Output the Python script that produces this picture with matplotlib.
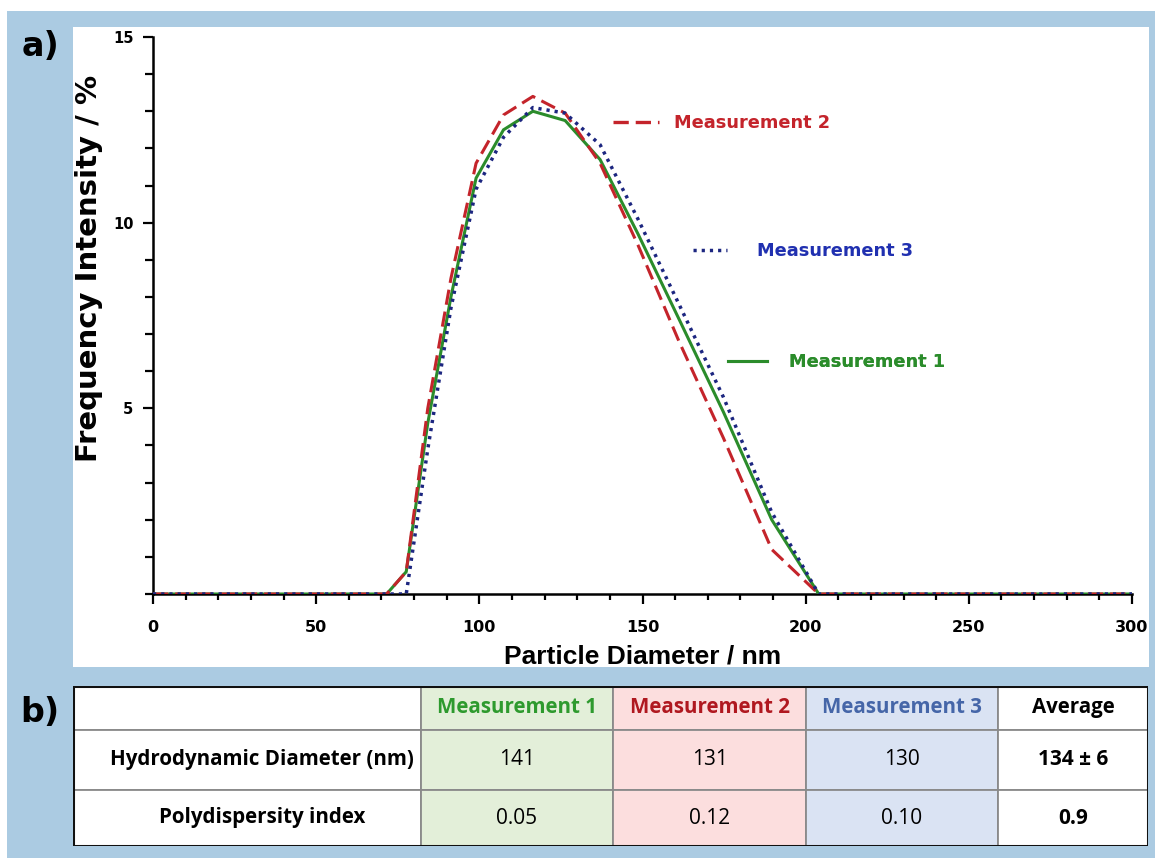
import matplotlib
matplotlib.use('Agg')
import matplotlib.pyplot as plt
from matplotlib.ticker import MultipleLocator
from matplotlib.lines import Line2D
from matplotlib.patches import Rectangle

# size distribution (DLS) - diameter bins in nm, intensity in %
diameter = [0, 71.6, 77.6, 84.2, 91.3, 99.0, 107.4, 116.4, 126.3, 137.0, 148.6, 161.2, 174.8, 189.6, 204.0, 300]
meas1 = [0, 0, 0.6, 4.6, 8.0, 11.2, 12.5, 13.0, 12.75, 11.7, 9.7, 7.4, 4.9, 2.0, 0, 0]
meas2 = [0, 0, 0.6, 5.0, 8.5, 11.6, 12.9, 13.4, 12.95, 11.6, 9.4, 6.8, 4.2, 1.2, 0, 0]
meas3 = [0, 0, 0, 3.9, 7.7, 10.9, 12.3, 13.1, 12.95, 12.1, 10.1, 7.8, 5.3, 2.2, 0, 0]

# table b)
col_headers = ['Measurement 1', 'Measurement 2', 'Measurement 3', 'Average']
row_labels = ['Hydrodynamic Diameter (nm)', 'Polydispersity index']
hd_values = ['141', '131', '130', '134 ± 6']
pdi_values = ['0.05', '0.12', '0.10', '0.9']

RED = '#c4242b'
GREEN = '#2b8c2b'
NAVY = '#1c2680'
BLUE_TXT = '#2030b0'
BG = '#abcbe2'
BOLD = 'DejaVu Sans'

plt.rcParams['lines.scale_dashes'] = False

W, H = 1155, 858
fig = plt.figure(figsize=(W / 100, H / 100), dpi=100)
fig.patch.set_facecolor('white')

# blue frame and white panel behind the plot
fig.add_artist(Rectangle((7 / W, 0), 1 - 7 / W, 1 - 11 / H, transform=fig.transFigure,
                         facecolor=BG, edgecolor='none', zorder=-10))
fig.add_artist(Rectangle((73 / W, 1 - 667 / H), (1149 - 73) / W, (667 - 27) / H, transform=fig.transFigure,
                         facecolor='white', edgecolor='none', zorder=-9))

ax = fig.add_axes([153 / W, 1 - 594 / H, (1132 - 153) / W, (594 - 37) / H])
ax.set_facecolor('none')

ax.plot(diameter, meas1, color=GREEN, lw=2.2, solid_joinstyle='miter', zorder=3)
ax.plot(diameter, meas2, color=RED, lw=2.2, dashes=(11, 5), zorder=4)
ax.plot(diameter, meas3, color=NAVY, lw=2.5, dashes=(2.3, 3.6), zorder=5)

ax.set_xlim(0, 300)
ax.set_ylim(0, 15)
for s in ['top', 'right']:
    ax.spines[s].set_visible(False)
for s in ['left', 'bottom']:
    ax.spines[s].set_linewidth(1.8)
    ax.spines[s].set_zorder(2)

ax.xaxis.set_major_locator(MultipleLocator(50))
ax.xaxis.set_minor_locator(MultipleLocator(10))
ax.yaxis.set_major_locator(MultipleLocator(5))
ax.yaxis.set_minor_locator(MultipleLocator(1))
ax.tick_params(axis='x', which='major', direction='out', length=7, width=1.6, pad=12)
ax.tick_params(axis='x', which='minor', direction='out', length=4.5, width=1.6)
ax.tick_params(axis='y', which='major', direction='out', length=7, width=1.6, pad=7)
ax.tick_params(axis='y', which='minor', direction='out', length=5.5, width=1.6)
ax.set_yticks([5, 10, 15])
for lab in ax.get_xticklabels():
    lab.set_fontfamily(BOLD)
    lab.set_fontweight('bold')
    lab.set_fontsize(11.5)
for lab in ax.get_yticklabels():
    lab.set_fontfamily(BOLD)
    lab.set_fontweight('bold')
    lab.set_fontsize(10.5)

ax.set_xlabel('Particle Diameter / nm', fontfamily='Liberation Sans', fontweight='bold',
              fontsize=19, va='center')
ax.xaxis.set_label_coords(0.5, (594 - 656) / 557)
ax.set_ylabel('Frequency Intensity / %', fontfamily=BOLD, fontweight='bold',
              fontsize=21, va='center')
ax.yaxis.set_label_coords((89 - 153) / 979, (594 - 268) / 557)

# staggered labels next to the curves
lab_font = {'family': BOLD, 'weight': 'bold', 'size': 12.8}
entries = [
    (Line2D([], [], color=RED, lw=2.4, dashes=(11, 5)), 'Measurement 2', RED, 613, 123, 2.6, 0.85),
    (Line2D([], [], color=NAVY, lw=2.5, dashes=(2.3, 3.6)), 'Measurement 3', BLUE_TXT, 693, 251, 1.9, 1.7),
    (Line2D([], [], color=GREEN, lw=2.2), 'Measurement 1', GREEN, 728, 362, 2.2, 1.25),
]
for handle, text, col, px, py, hl, tp in entries:
    leg = ax.legend([handle], [text], loc='center left', bbox_to_anchor=(px / W, 1 - py / H),
                    bbox_transform=fig.transFigure, frameon=False, prop=lab_font,
                    handlelength=hl, handletextpad=tp, borderpad=0, borderaxespad=0)
    for t in leg.get_texts():
        t.set_color(col)
    ax.add_artist(leg)

fig.text(22 / W, 1 - 47 / H, 'a)', fontfamily=BOLD, fontweight='bold', fontsize=24,
         va='center', ha='left')
fig.text(20 / W, 1 - 713 / H, 'b)', fontfamily=BOLD, fontweight='bold', fontsize=24,
         va='center', ha='left')

# ---- table ----
tx = [73, 421, 613, 806, 998, 1148]
ty = [686, 730, 790, 846]
tab = fig.add_axes([tx[0] / W, 1 - ty[-1] / H, (tx[-1] - tx[0]) / W, (ty[-1] - ty[0]) / H])
tab.set_xlim(tx[0], tx[-1])
tab.set_ylim(ty[-1], ty[0])
tab.axis('off')

col_fill = ['white', '#e3efd9', '#fcdede', '#dae3f3', 'white']
head_colors = ['#2e9a2e', '#b01820', '#4566a8', 'black']
cells = [[''] + col_headers, [row_labels[0]] + hd_values, [row_labels[1]] + pdi_values]
tfont = 'Open Sans'
for r in range(3):
    for c in range(5):
        tab.add_patch(Rectangle((tx[c], ty[r]), tx[c + 1] - tx[c], ty[r + 1] - ty[r],
                                facecolor=col_fill[c], edgecolor='#8a8a8a', lw=1.3))
        txt = cells[r][c]
        if not txt:
            continue
        cy = (ty[r] + ty[r + 1]) / 2
        if c == 0:
            tab.text(262, cy, txt, ha='center', va='center', fontfamily=tfont,
                     fontweight='bold', fontsize=14.8)
        elif r == 0:
            tab.text((tx[c] + tx[c + 1]) / 2, cy, txt, ha='center', va='center', fontfamily=tfont,
                     fontweight='bold', fontsize=14.8, color=head_colors[c - 1])
        else:
            tab.text((tx[c] + tx[c + 1]) / 2, cy, txt, ha='center', va='center', fontfamily=tfont,
                     fontweight='bold' if c == 4 else 'normal', fontsize=15)
tab.add_patch(Rectangle((tx[0], ty[0]), tx[-1] - tx[0], ty[-1] - ty[0], facecolor='none',
                        edgecolor='#111111', lw=2.2, zorder=5))

fig.savefig('out.png', dpi=100)
